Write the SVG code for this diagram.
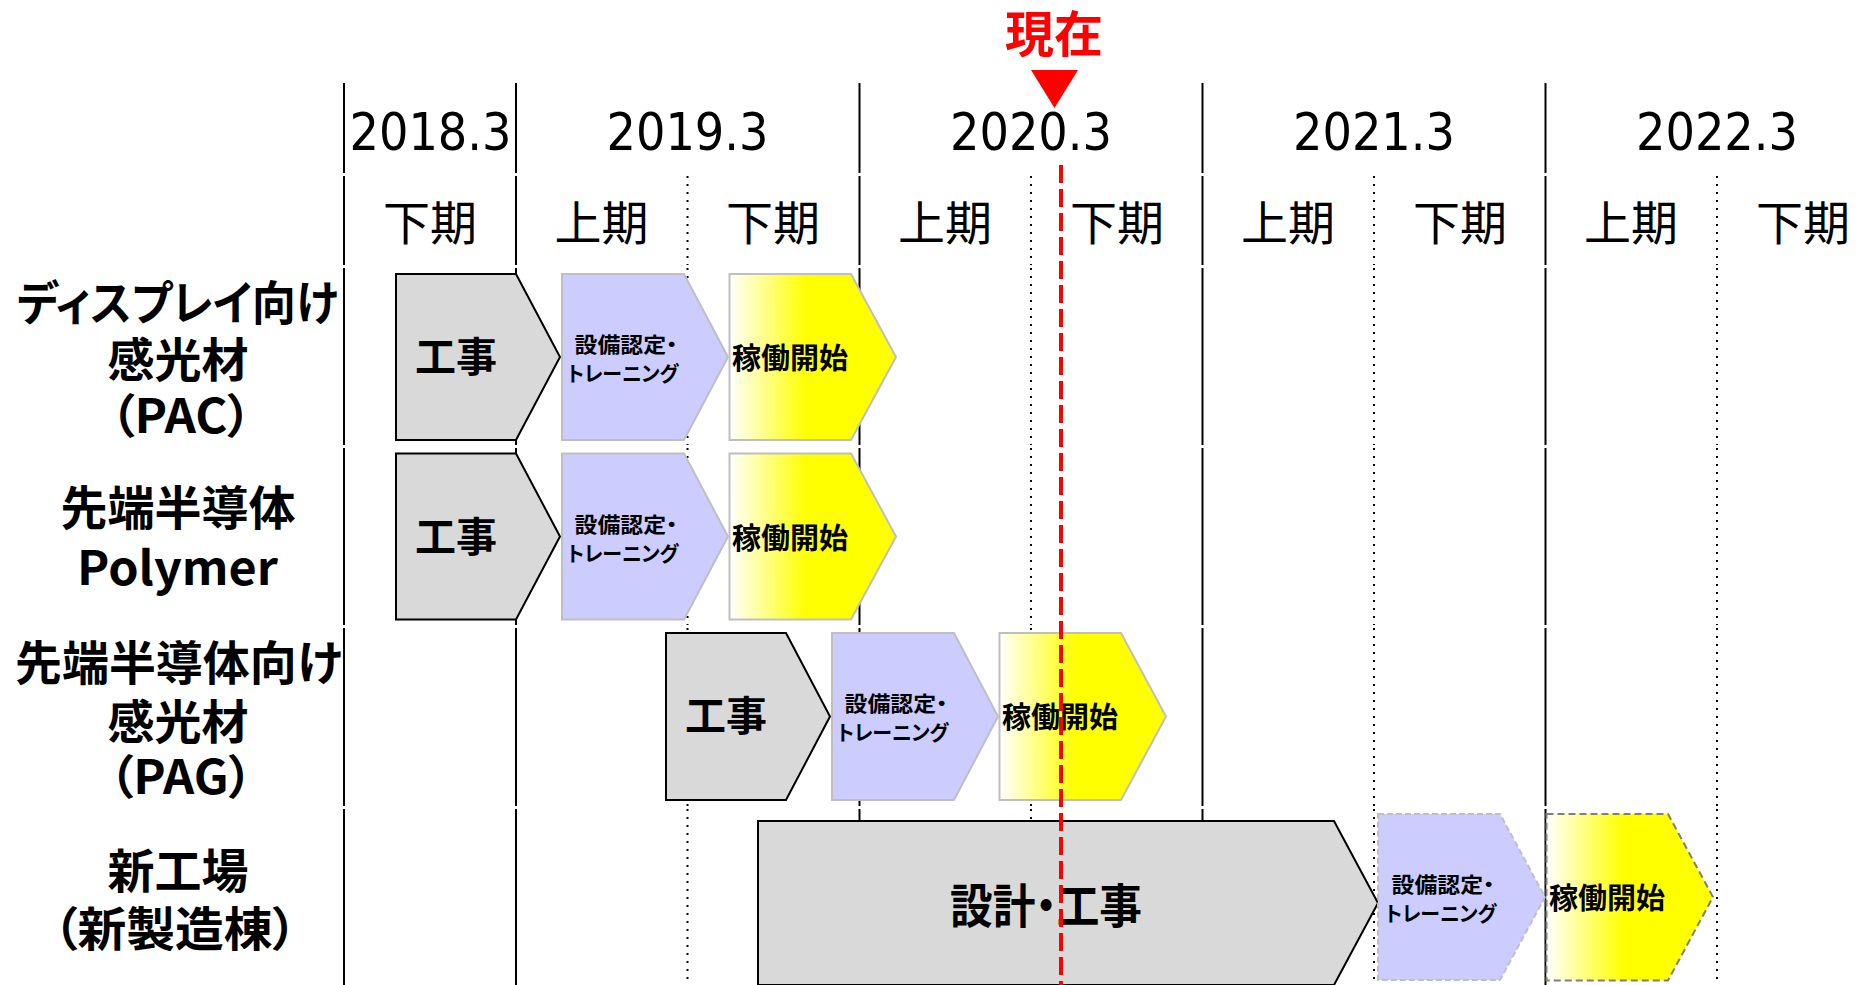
<svg xmlns="http://www.w3.org/2000/svg" width="1862" height="985" viewBox="0 0 1862 985">
<defs>
<style>
.solid{stroke:#000;stroke-width:2;fill:none}
.dot{stroke:#000;stroke-width:2;stroke-dasharray:2 6;fill:none}
.yr{font-family:"DejaVu Sans","Liberation Sans",sans-serif;font-stretch:condensed;font-size:51px;fill:#000;text-anchor:middle}
.hf{font-family:"Noto Sans CJK JP","Noto Sans",sans-serif;font-size:47px;fill:#000;text-anchor:middle}
.lbl{font-family:"Noto Sans CJK JP","Noto Sans",sans-serif;font-weight:700;font-size:47px;fill:#000;text-anchor:middle;font-feature-settings:"palt" 1}
.big{font-family:"Noto Sans CJK JP",sans-serif;font-weight:700;font-size:41px;fill:#000;text-anchor:middle}
.sm{font-family:"Noto Sans CJK JP",sans-serif;font-weight:700;font-size:21px;fill:#000;text-anchor:middle;font-feature-settings:"palt" 1}
.op{font-family:"Noto Sans CJK JP",sans-serif;font-weight:700;font-size:29px;fill:#000;text-anchor:middle}
.gray{fill:#D9D9D9;stroke:#000;stroke-width:2}
.purple{fill:#CCCCFF;stroke:#BFBFBF;stroke-width:2}
.yellow{fill:url(#yg);stroke:#BFBFBF;stroke-width:2}
.purpleD{fill:#CCCCFF;stroke:#BFBFBF;stroke-width:2;stroke-dasharray:6 3}
.yellowD{fill:url(#yg);stroke:#7F7F7F;stroke-width:2;stroke-dasharray:7 4}
</style>
<linearGradient id="yg" x1="0" y1="0" x2="1" y2="0">
<stop offset="0" stop-color="#FFFFFF"/>
<stop offset="0.46" stop-color="#FFFF00"/>
<stop offset="1" stop-color="#FFFF00"/>
</linearGradient>
</defs>
<rect width="1862" height="985" fill="#FFFFFF"/>

<g id="grid">
<g class="solid">
<path d="M344 83V173M344 176V265M344 268V445M344 448V625M344 628V806M344 809V985"/>
<path d="M516 83V173M516 176V265M516 268V445M516 448V625M516 628V806M516 809V985"/>
<path d="M859.5 83V173M859.5 176V265M859.5 268V445M859.5 448V625M859.5 628V806M859.5 809V985"/>
<path d="M1202.5 83V173M1202.5 176V265M1202.5 268V445M1202.5 448V625M1202.5 628V806M1202.5 809V985"/>
<path d="M1545.5 83V173M1545.5 176V265M1545.5 268V445M1545.5 448V625M1545.5 628V806M1545.5 809V985"/>
</g>
<g class="dot">
<path d="M687.5 176V265M687.5 268V445M687.5 448V625M687.5 628V806M687.5 809V985"/>
<path d="M1031 176V265M1031 268V445M1031 448V625M1031 628V806M1031 809V985"/>
<path d="M1374 176V265M1374 268V445M1374 448V625M1374 628V806M1374 809V985"/>
<path d="M1717 176V265M1717 268V445M1717 448V625M1717 628V806M1717 809V985"/>
</g>
</g>

<g id="header">
<text class="yr" x="430.5" y="150" textLength="162" lengthAdjust="spacingAndGlyphs">2018.3</text>
<text class="yr" x="687.5" y="150" textLength="162" lengthAdjust="spacingAndGlyphs">2019.3</text>
<text class="yr" x="1031" y="150" textLength="162" lengthAdjust="spacingAndGlyphs">2020.3</text>
<text class="yr" x="1374" y="150" textLength="162" lengthAdjust="spacingAndGlyphs">2021.3</text>
<text class="yr" x="1717" y="150" textLength="162" lengthAdjust="spacingAndGlyphs">2022.3</text>
<text class="hf" x="430" y="240">下期</text>
<text class="hf" x="601.5" y="240">上期</text>
<text class="hf" x="773" y="240">下期</text>
<text class="hf" x="945" y="240">上期</text>
<text class="hf" x="1117" y="240">下期</text>
<text class="hf" x="1288" y="240">上期</text>
<text class="hf" x="1460" y="240">下期</text>
<text class="hf" x="1631" y="240">上期</text>
<text class="hf" x="1803" y="240">下期</text>
</g>

<g id="labels">
<text class="lbl" x="177.5" y="320" textLength="321" lengthAdjust="spacingAndGlyphs">ディスプレイ向け</text>
<text class="lbl" x="178" y="377">感光材</text>
<text class="lbl" x="181" y="433" textLength="142" lengthAdjust="spacingAndGlyphs">（PAC）</text>
<text class="lbl" x="178" y="525">先端半導体</text>
<text class="lbl" x="177.5" y="585" textLength="201" lengthAdjust="spacingAndGlyphs">Polymer</text>
<text class="lbl" x="178.5" y="680" textLength="327" lengthAdjust="spacingAndGlyphs">先端半導体向け</text>
<text class="lbl" x="178" y="739">感光材</text>
<text class="lbl" x="181" y="794" textLength="144" lengthAdjust="spacingAndGlyphs">（PAG）</text>
<text class="lbl" x="178" y="888">新工場</text>
<text class="lbl" x="175" y="946" textLength="244" lengthAdjust="spacingAndGlyphs">（新製造棟）</text>
</g>

<g id="row1-construction">
<path class="gray" d="M396 274H516L560 357L516 440H396Z"/>
<text class="big" x="456" y="372">工事</text>
</g>
<g id="row1-training">
<path class="purple" d="M562 274H684L728 357L684 440H562Z"/>
<text class="sm" x="626" y="352" textLength="103" lengthAdjust="spacingAndGlyphs">設備認定・</text>
<text class="sm" x="623" y="381" textLength="111" lengthAdjust="spacingAndGlyphs">トレーニング</text>
</g>
<g id="row1-start">
<path class="yellow" d="M729.5 274H851L896 357L851 440H729.5Z"/>
<text class="op" x="790" y="369">稼働開始</text>
</g>

<g id="row2-construction">
<path class="gray" d="M396 453.5H516L560 536.5L516 619.5H396Z"/>
<text class="big" x="456" y="551.5">工事</text>
</g>
<g id="row2-training">
<path class="purple" d="M562 453.5H684L728 536.5L684 619.5H562Z"/>
<text class="sm" x="626" y="531.5" textLength="103" lengthAdjust="spacingAndGlyphs">設備認定・</text>
<text class="sm" x="623" y="560.5" textLength="111" lengthAdjust="spacingAndGlyphs">トレーニング</text>
</g>
<g id="row2-start">
<path class="yellow" d="M729.5 453.5H851L896 536.5L851 619.5H729.5Z"/>
<text class="op" x="790" y="548.5">稼働開始</text>
</g>

<g id="row3-construction">
<path class="gray" d="M666 633H786L830 716.5L786 800H666Z"/>
<text class="big" x="726" y="731">工事</text>
</g>
<g id="row3-training">
<path class="purple" d="M832 633H954L998 716.5L954 800H832Z"/>
<text class="sm" x="896" y="711" textLength="103" lengthAdjust="spacingAndGlyphs">設備認定・</text>
<text class="sm" x="893" y="740" textLength="111" lengthAdjust="spacingAndGlyphs">トレーニング</text>
</g>
<g id="row3-start">
<path class="yellow" d="M999.5 633H1121L1166 716.5L1121 800H999.5Z"/>
<text class="op" x="1060" y="728">稼働開始</text>
</g>

<g id="row4-design">
<path class="gray" d="M758 821H1334L1378 903L1334 985H758Z"/>
<text class="lbl" x="1046" y="923" font-size="44" textLength="192" lengthAdjust="spacingAndGlyphs">設計・工事</text>
</g>
<g id="row4-training">
<path class="purpleD" d="M1378 814H1500L1545 897L1500 980H1378Z"/>
<text class="sm" x="1443" y="892" textLength="103" lengthAdjust="spacingAndGlyphs">設備認定・</text>
<text class="sm" x="1441" y="921" textLength="111" lengthAdjust="spacingAndGlyphs">トレーニング</text>
</g>
<g id="row4-start">
<path class="yellowD" d="M1546.5 814H1668L1713 897L1668 980.5H1546.5Z"/>
<text class="op" x="1607" y="909">稼働開始</text>
</g>

<g id="now-marker">
<text x="1054" y="52" font-family="Noto Sans CJK JP, sans-serif" font-weight="700" font-size="49" fill="#FF0000" text-anchor="middle">現在</text>
<polygon points="1031,70 1078,70 1054.5,108" fill="#FF0000"/>
<line x1="1061" y1="165" x2="1061" y2="985" stroke="#FF0000" stroke-width="4" stroke-dasharray="18 6"/>
</g>
</svg>
